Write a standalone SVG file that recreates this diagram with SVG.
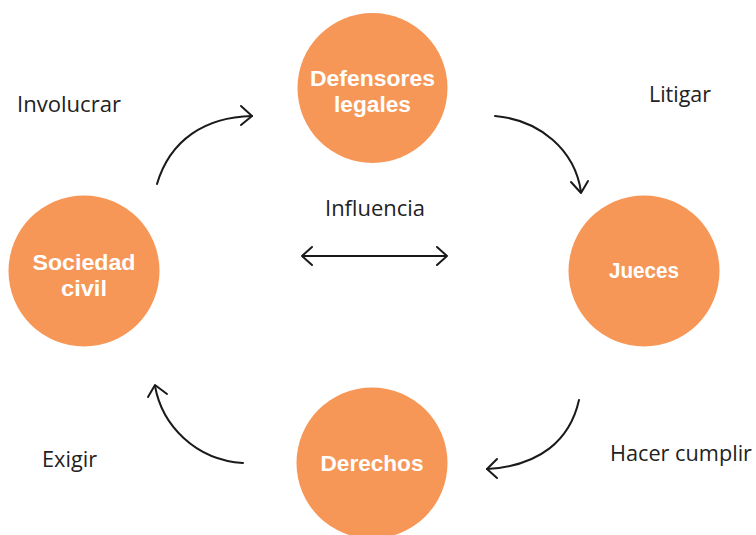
<svg xmlns="http://www.w3.org/2000/svg" width="756" height="535" viewBox="0 0 756 535">
<style>
.node{fill:#F79757}
.nt{font-family:"Liberation Sans","Open Sans",sans-serif;font-weight:bold;font-size:22px;fill:#fff;text-anchor:middle}
.lbl{font-family:"Open Sans","Noto Sans",sans-serif;font-size:21px;fill:#222}
.c{fill:none;stroke:#1a1a1a;stroke-width:2;stroke-linecap:round;stroke-linejoin:round}
</style>
<rect width="756" height="535" fill="#fff"/>
<g id="defensores"><circle class="node" cx="372.5" cy="88" r="75"/><text class="nt" x="372.5" y="86" textLength="125" lengthAdjust="spacingAndGlyphs">Defensores</text><text class="nt" x="372.5" y="112" textLength="77" lengthAdjust="spacingAndGlyphs">legales</text></g>
<g id="jueces"><circle class="node" cx="644" cy="271" r="75.5"/><text class="nt" x="644" y="278" textLength="70" lengthAdjust="spacingAndGlyphs">Jueces</text></g>
<g id="derechos"><circle class="node" cx="372" cy="463" r="75.5"/><text class="nt" x="372" y="471" textLength="103" lengthAdjust="spacingAndGlyphs">Derechos</text></g>
<g id="sociedad"><circle class="node" cx="84" cy="271" r="75.5"/><text class="nt" x="84" y="270" textLength="103" lengthAdjust="spacingAndGlyphs">Sociedad</text><text class="nt" x="84" y="296" textLength="46" lengthAdjust="spacingAndGlyphs">civil</text></g>
<g id="connectors">
<path class="c" d="M157,184 C170,140 205,117 252,116"/><path class="c" d="M241,106 L252,116 L241,125"/>
<path class="c" d="M495,116 C540,120 575,150 581,192"/><path class="c" d="M571,182 L581,193 L588,181"/>
<path class="c" d="M579,400 C570,440 540,466 487,469"/><path class="c" d="M497,459 L487,469 L497,478"/>
<path class="c" d="M243,463 C195,460 162,425 155,386"/><path class="c" d="M148,397 L155,385 L167,394"/>
<path class="c" d="M302,256 L447,256 M312,247 L302,256 L312,265 M437,247 L447,256 L437,265"/>
</g>
<g id="labels">
<text class="lbl" x="17" y="112" textLength="104" lengthAdjust="spacingAndGlyphs">Involucrar</text>
<text class="lbl" x="649" y="102" textLength="62" lengthAdjust="spacingAndGlyphs">Litigar</text>
<text class="lbl" x="325" y="216" textLength="100" lengthAdjust="spacingAndGlyphs">Influencia</text>
<text class="lbl" x="42" y="467" textLength="55" lengthAdjust="spacingAndGlyphs">Exigir</text>
<text class="lbl" x="610" y="461" textLength="142" lengthAdjust="spacingAndGlyphs">Hacer cumplir</text>
</g>
</svg>
